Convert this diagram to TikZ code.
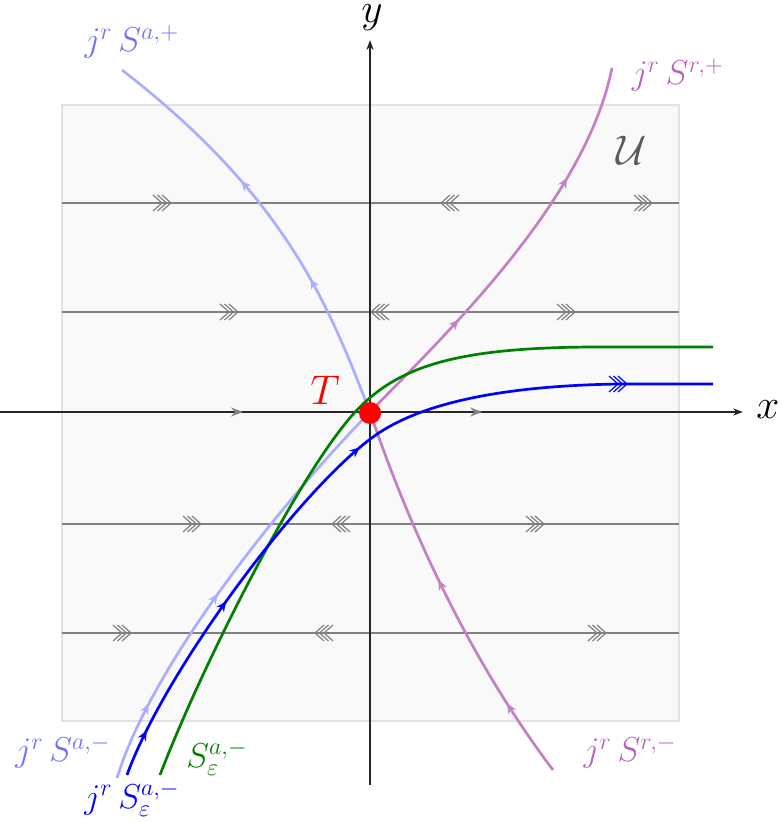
\documentclass[tikz,border=0pt]{standalone}
\usetikzlibrary{arrows.meta,decorations.markings}
\definecolor{lblue}{RGB}{170,174,255}
\definecolor{lbluetext}{RGB}{112,112,255}
\definecolor{pinkc}{RGB}{196,128,196}
\definecolor{pinktext}{RGB}{184,100,184}
\definecolor{greenc}{RGB}{0,128,0}
\definecolor{boxfill}{RGB}{249,249,249}
\definecolor{boxline}{RGB}{226,226,226}
\definecolor{flowgray}{RGB}{128,128,128}
\definecolor{ugray}{RGB}{90,90,90}
\tikzset{
  flowline/.style={draw=flowgray, line width=0.75pt},
  chevs/.pic={\foreach \i in {0,4.5,9}{\draw[pic actions] ({\i-9},8)--(\i,0)--({\i-9},-8);}},
  chevstyle/.style={draw=flowgray, line width=0.6pt},
  axisline/.style={draw=black!85, line width=0.6pt, -{Stealth[length=5pt,width=3.6pt]}},
  arrowat/.style={postaction={decorate,decoration={markings,mark=at position #1 with {\arrow{Stealth[length=5pt,width=4.5pt]}}}}},
  grayarrowat/.style={postaction={decorate,decoration={markings,mark=at position #1 with {\arrow[flowgray]{Stealth[length=6pt,width=4.5pt]}}}}},
  manifold/.style={line width=1.35pt},
  lab/.style={font=\LARGE, inner sep=0pt},
}
\begin{document}
\begin{tikzpicture}[x=0.5pt,y=-0.5pt]
\useasboundingbox (0,0) rectangle (781,822);
% region U
\draw[fill=boxfill, draw=boxline, line width=0.6pt] (62,105) rectangle (679,721);
% fast fibres
\foreach \yy in {203,312,524,633} { \coordinate (fl\yy) at (62,\yy); \coordinate (fr\yy) at (679,\yy); \draw[flowline] (fl\yy) -- (fr\yy); }
% chevrons right
\foreach \px/\py in {162/203,643/203,229/312,566/312,192/524,535/524,122/633,597/633}
  { \pic[chevstyle] at (\px,\py) {chevs}; }
% chevrons left
\foreach \px/\py in {450/203,380/312,341/524,324/633}
  { \pic[chevstyle,rotate=180] at (\px,\py) {chevs}; }
% axes
\coordinate (xs) at (0,412); \coordinate (xe) at (743,412);
\coordinate (ys) at (370,785); \coordinate (ye) at (370,40);
\draw[axisline, grayarrowat=0.327, grayarrowat=0.649] (xs) -- (xe);
\draw[axisline] (ys) -- (ye);
\node[font=\huge, inner sep=0pt] (xl) at (768,410) {$x$};
\node[font=\huge, inner sep=0pt, anchor=north] (yl) at (372,4) {$y$};
% named points
\coordinate (Tc) at (370,412);
\coordinate (am) at (117,778); \coordinate (ap) at (122,70);
\coordinate (rp) at (612,68);  \coordinate (rm) at (553,770);
\coordinate (gs) at (160,775); \coordinate (gm) at (357,410); \coordinate (gf) at (600,347); \coordinate (ge) at (713,347);
\coordinate (bs) at (127,775); \coordinate (bm) at (373,437); \coordinate (bf) at (620,384); \coordinate (be) at (713,384);
% attracting critical manifold branches
\draw[lblue, manifold, arrowat=0.18, arrowat=0.47] (am) .. controls (150,670) and (270,515) .. (Tc);
\draw[lblue, manifold, arrowat=0.34, arrowat=0.62] (Tc) .. controls (330,310) and (290,200) .. (ap);
% repelling branches
\draw[pinkc, manifold, arrowat=0.30, arrowat=0.72] (Tc) .. controls (450,330) and (585,200) .. (rp);
\draw[pinkc, manifold, arrowat=0.2, arrowat=0.55] (rm) .. controls (470,660) and (410,530) .. (Tc);
% slow manifold
\draw[greenc, manifold] (gs) .. controls (200,670) and (300,470) .. (gm) .. controls (400,365) and (460,347) .. (gf) -- (ge);
% jet of slow manifold
\draw[blue, manifold, arrowat=0.063, arrowat=0.26, arrowat=0.525] (bs) .. controls (165,670) and (300,490) .. (bm) .. controls (410,410) and (480,386) .. (bf) -- (be);
\pic[draw=blue, line width=0.6pt] at (618,384) {chevs};
% tangency point
\node[circle, fill=red, minimum size=11pt, inner sep=0pt] (T) at (370,413) {};
\node[font=\huge, text=red, inner sep=0pt] (Tl) at (325,390) {$T$};
% labels
\node[lab, text=lbluetext] (lap) at (132,42) {$j^r\,S^{a,+}$};
\node[lab, text=lbluetext] (lam) at (63,752) {$j^r\,S^{a,-}$};
\node[lab, text=pinktext] (lrp) at (678,75) {$j^r\,S^{r,+}$};
\node[lab, text=pinktext] (lrm) at (630,752) {$j^r\,S^{r,-}$};
\node[lab, text=greenc] (lse) at (217,758) {$S^{a,-}_{\varepsilon}$};
\node[lab, text=blue] (ljse) at (132,799) {$j^r\,S^{a,-}_{\varepsilon}$};
\node[font=\huge, text=ugray, inner sep=0pt] (U) at (632,150) {$\mathcal{U}$};
\end{tikzpicture}
\end{document}
